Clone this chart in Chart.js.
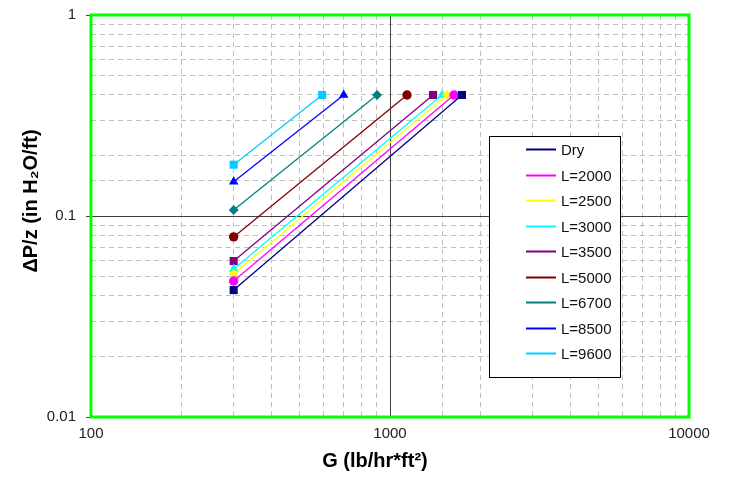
<!DOCTYPE html>
<html>
<head>
<meta charset="utf-8">
<script src="https://cdn.jsdelivr.net/npm/chart.js@4"></script>
<style>
  html, body { margin: 0; padding: 0; background: #fff; }
  #wrap { width: 729px; height: 478px; position: relative; }
</style>
</head>
<body>
<div id="wrap"><canvas id="dpChart"></canvas></div>
<script>
// Data (log-log, pressure drop vs gas rate)
const seriesLabels = ["Dry", "L=2000", "L=2500", "L=3000", "L=3500", "L=5000", "L=6700", "L=8500", "L=9600"];
const gLow = [300, 300, 300, 300, 300, 300, 300, 300, 300];
const gHigh = [1741, 1637, 1551, 1493, 1393, 1140, 905, 700, 593];
const dpLow = [0.0428, 0.0475, 0.0515, 0.0545, 0.0597, 0.0787, 0.107, 0.148, 0.18];
const dpHigh = [0.4, 0.4, 0.4, 0.4, 0.4, 0.4, 0.4, 0.4, 0.4];
const colors = ["#000080", "#FF00FF", "#FFFF00", "#00FFFF", "#800080", "#800000", "#008080", "#0000FF", "#00CCFF"];
const markers = ["rect", "circle", "rectRot", "triangle", "rect", "circle", "rectRot", "triangle", "rect"];
const xTicks = [100, 1000, 10000];
const yTicks = [0.01, 0.1, 1];

const FONT = "'Liberation Sans', Arial, sans-serif";
const markerSize = { rect: 5.7, circle: 4.7, rectRot: 5, triangle: 5.5 };

const isMajor = (v, list) => list.some(t => Math.abs(v - t) / t < 1e-6);

const datasets = seriesLabels.map((lab, i) => ({
  label: lab,
  data: [{ x: gLow[i], y: dpLow[i] }, { x: gHigh[i], y: dpHigh[i] }],
  borderColor: colors[i],
  backgroundColor: colors[i],
  borderWidth: 1.3,
  pointStyle: markers[i],
  pointRadius: markerSize[markers[i]],
  pointBorderWidth: 0,
  tension: 0,
}));

// solid major lines, green frame, axis titles and the boxed legend
const decor = {
  id: "decor",
  beforeDatasetsDraw(chart) {
    const { ctx, chartArea: a, scales } = chart;
    ctx.save();
    ctx.strokeStyle = "#404040";
    ctx.lineWidth = 1;
    const x = Math.round(scales.x.getPixelForValue(1000)) + 0.5;
    const y = Math.round(scales.y.getPixelForValue(0.1)) + 0.5;
    ctx.beginPath();
    ctx.moveTo(x, a.top); ctx.lineTo(x, a.bottom);
    ctx.moveTo(a.left, y); ctx.lineTo(a.right, y);
    ctx.stroke();
    ctx.restore();
  },
  afterDraw(chart) {
    const { ctx, chartArea: a } = chart;
    ctx.save();
    ctx.strokeStyle = "#00FF00";
    ctx.lineWidth = 3;
    ctx.strokeRect(a.left, a.top, a.right - a.left, a.bottom - a.top);

    // axis titles
    ctx.fillStyle = "#000";
    ctx.font = "bold 20px " + FONT;
    ctx.textAlign = "center";
    ctx.textBaseline = "middle";
    ctx.fillText("G (lb/hr*ft²)", 375, 461);
    ctx.save();
    ctx.translate(31, 201);
    ctx.rotate(-Math.PI / 2);
    ctx.fillText("ΔP/z (in H₂O/ft)", 0, 0);
    ctx.restore();

    // legend box
    const lx = 489.5, ly = 136.5, lw = 131, lh = 241;
    ctx.fillStyle = "#fff";
    ctx.fillRect(lx, ly, lw, lh);
    ctx.strokeStyle = "#000";
    ctx.lineWidth = 1;
    ctx.strokeRect(lx, ly, lw, lh);
    ctx.font = "15px " + FONT;
    ctx.textBaseline = "middle";
    ctx.textAlign = "left";
    chart.data.datasets.forEach((ds, i) => {
      const yy = Math.round(149 + i * 25.5) + 0.5;
      ctx.strokeStyle = ds.borderColor;
      ctx.lineWidth = 2;
      ctx.beginPath();
      ctx.moveTo(526, yy); ctx.lineTo(556, yy);
      ctx.stroke();
      ctx.fillStyle = "#111";
      ctx.fillText(ds.label, 561, yy + 1);
    });
    ctx.restore();
  },
};

new Chart(document.getElementById("dpChart"), {
  type: "line",
  data: { datasets },
  plugins: [decor],
  options: {
    responsive: true,
    maintainAspectRatio: false,
    animation: false,
    layout: { padding: { top: 15, right: 40, left: 0, bottom: 0 } },
    plugins: { legend: { display: false }, tooltip: { enabled: false } },
    scales: {
      x: {
        type: "logarithmic",
        min: 100,
        max: 10000,
        afterFit: (s) => { s.height = 61; s.paddingLeft = 0; s.paddingRight = 0; },
        grid: {
          color: (c) => isMajor(c.tick.value, xTicks) ? "rgba(0,0,0,0)" : "#c0c0c0",
          borderDash: [5, 4],
          tickColor: "rgba(0,0,0,0)",
          tickLength: 4,
        },
        border: { display: false, dash: [5, 4] },
        ticks: {
          autoSkip: false,
          maxRotation: 0,
          color: "#222",
          padding: 4,
          font: { family: FONT, size: 15 },
          callback: (v) => isMajor(v, xTicks) ? String(v) : "",
        },
      },
      y: {
        type: "logarithmic",
        min: 0.01,
        max: 1,
        afterFit: (s) => { s.width = 91; s.paddingTop = 0; s.paddingBottom = 0; },
        grid: {
          color: (c) => isMajor(c.tick.value, yTicks) ? "rgba(0,0,0,0)" : "#c0c0c0",
          borderDash: [5, 4],
          tickColor: (c) => isMajor(c.tick.value, yTicks) ? "#404040" : "rgba(0,0,0,0)",
          tickLength: 5,
        },
        border: { display: false, dash: [5, 4] },
        ticks: {
          autoSkip: false,
          color: "#222",
          padding: 10,
          font: { family: FONT, size: 15 },
          callback: (v) => isMajor(v, yTicks) ? String(v) : "",
        },
      },
    },
  },
});
</script>
</body>
</html>
